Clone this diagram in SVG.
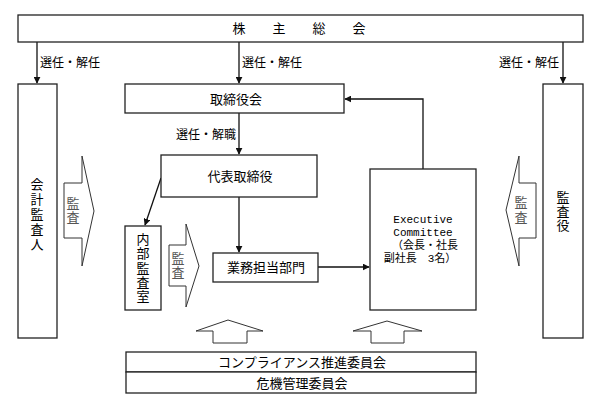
<svg xmlns="http://www.w3.org/2000/svg" width="600" height="408" viewBox="0 0 600 408">
<defs>
<style>
.box{fill:#fff;stroke:#222;stroke-width:1.3}
.blk{fill:#fff;stroke:#333;stroke-width:1}
.ln{fill:none;stroke:#111;stroke-width:1.3}
.t{font-family:"Liberation Serif","Noto Sans CJK JP",serif;font-size:13px;fill:#000;text-anchor:middle;dominant-baseline:central}
.s{font-size:12px}
.g{fill:#555}
.m{font-family:"Liberation Mono","Noto Sans CJK JP",monospace;font-size:11px}
</style>
<marker id="ah" viewBox="0 0 10 10" refX="9" refY="5" markerWidth="7" markerHeight="7" markerUnits="userSpaceOnUse" orient="auto"><path d="M0,0L10,5L0,10z" fill="#111"/></marker>
</defs>
<g id="connectors">
<line class="ln" x1="37" y1="42" x2="37" y2="83" marker-end="url(#ah)"/>
<line class="ln" x1="239" y1="42" x2="239" y2="83" marker-end="url(#ah)"/>
<line class="ln" x1="563" y1="42" x2="563" y2="83" marker-end="url(#ah)"/>
<polyline class="ln" points="423,169 423,99 345,99" marker-end="url(#ah)"/>
<line class="ln" x1="239" y1="113" x2="239" y2="154" marker-end="url(#ah)"/>
<line class="ln" x1="239" y1="197" x2="239" y2="252" marker-end="url(#ah)"/>
<line class="ln" x1="318" y1="267" x2="369" y2="267" marker-end="url(#ah)"/>
<line class="ln" x1="161" y1="178" x2="145" y2="225" marker-end="url(#ah)"/>
<text class="t s" x="70" y="63">選任・解任</text>
<text class="t s" x="272" y="63">選任・解任</text>
<text class="t s" x="529" y="63">選任・解任</text>
<text class="t s" x="206" y="135">選任・解職</text>
</g>
<g id="shareholders">
<rect class="box" x="18" y="15" width="565" height="27"/>
<text class="t" x="239" y="28">株</text><text class="t" x="279" y="28">主</text><text class="t" x="319" y="28">総</text><text class="t" x="359" y="28">会</text>
</g>
<g id="accounting-auditor">
<rect class="box" x="18" y="84" width="39" height="254"/>
<text class="t" x="37" y="184">会</text><text class="t" x="37" y="199">計</text><text class="t" x="37" y="214">監</text><text class="t" x="37" y="229">査</text><text class="t" x="37" y="244">人</text>
</g>
<g id="auditors">
<rect class="box" x="543" y="84" width="40" height="254"/>
<text class="t" x="563" y="197">監</text><text class="t" x="563" y="211">査</text><text class="t" x="563" y="225">役</text>
</g>
<g id="board">
<rect class="box" x="125" y="84" width="219" height="29"/>
<text class="t" x="236" y="99">取締役会</text>
</g>
<g id="representative">
<rect class="box" x="161" y="155" width="156" height="42"/>
<text class="t" x="240" y="176">代表取締役</text>
</g>
<g id="business-dept">
<rect class="box" x="213" y="253" width="105" height="29"/>
<text class="t" x="266" y="267">業務担当部門</text>
</g>
<g id="internal-audit">
<rect class="box" x="125" y="226" width="36" height="84"/>
<text class="t" x="143" y="239">内</text><text class="t" x="143" y="253">部</text><text class="t" x="143" y="268">監</text><text class="t" x="143" y="282">査</text><text class="t" x="143" y="296">室</text>
</g>
<g id="executive-committee">
<rect class="box" x="370" y="169" width="106" height="141"/>
<text class="t m" x="423" y="220">Executive</text>
<text class="t m" x="423" y="233">Committee</text>
<text class="t m" x="425" y="246">（会長・社長</text>
<text class="t m" x="420" y="259">副社長　3名）</text>
</g>
<g id="audit-arrow-left">
<polygon class="blk" points="64,183 82,183 82,156 94,211 82,266 82,238 64,238"/>
<text class="t g" x="73" y="203">監</text><text class="t g" x="73" y="217">査</text>
</g>
<g id="audit-arrow-internal">
<polygon class="blk" points="169,245 186,245 186,224 199,266 186,307 186,286 169,286"/>
<text class="t g" x="178" y="258">監</text><text class="t g" x="178" y="272">査</text>
</g>
<g id="audit-arrow-right">
<polygon class="blk" points="536,183 519,183 519,156 506,210 519,266 519,238 536,238"/>
<text class="t g" x="521" y="202">監</text><text class="t g" x="521" y="217">査</text>
</g>
<g id="up-arrow-1">
<polygon class="blk" points="213,343 213,331 196,331 228,320 263,331 247,331 247,343"/>
</g>
<g id="up-arrow-2">
<polygon class="blk" points="371,343 371,331 353,331 387,321 422,331 404,331 404,343"/>
</g>
<g id="compliance">
<rect class="box" x="126" y="352" width="350" height="20"/>
<text class="t" x="302" y="362">コンプライアンス推進委員会</text>
</g>
<g id="risk">
<rect class="box" x="126" y="372" width="350" height="21"/>
<text class="t" x="302" y="383">危機管理委員会</text>
</g>
</svg>
